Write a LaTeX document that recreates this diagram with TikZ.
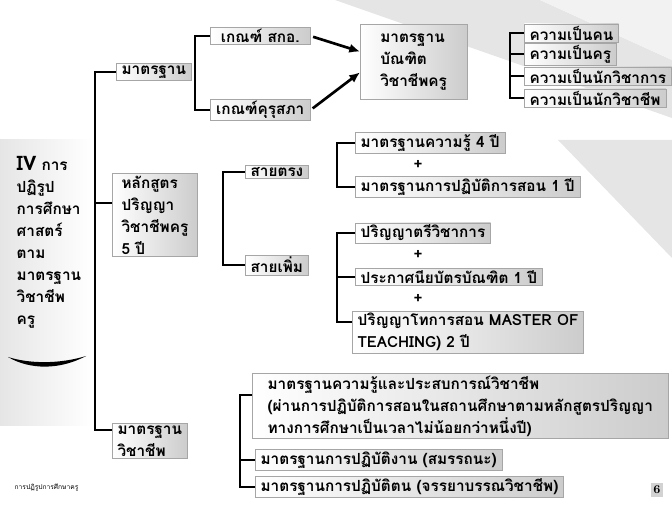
\documentclass[tikz,border=0pt]{standalone}
\usepackage{fontspec}
\newfontfamily\thaifont[Script=Thai]{Loma}
\usetikzlibrary{arrows.meta}

\begin{document}
\lineskiplimit=-20pt\relax
\begin{tikzpicture}[x=0.75pt, y=-0.75pt,
    txt/.style={font=\thaifont\bfseries\fontsize{11.5}{16.5}\selectfont},
    box/.style={txt, left color=white, right color=gray!40, draw=gray!70,
      inner xsep=4pt, inner ysep=1.5pt, anchor=west, align=left},
    brk/.style={line width=1.6pt},
    arr/.style={line width=2pt, -{Latex[length=8pt,width=7pt]}, shorten <=2pt}]
    \useasboundingbox (0,0) rectangle (672,506);

    % background shading
    \fill[gray!20] (335,0) -- (540,0) -- (672,60) -- (672,118) -- cycle;
    \fill[gray!10] (540,0) -- (672,0) -- (672,60) -- cycle;
    \fill[gray!20] (558,140) -- (672,140) -- (672,258) -- cycle;
    \shade[left color=gray!20, right color=white] (0,140) rectangle (92,425);

    % title
    \node[txt, anchor=west, align=left] (title) at (12,242)
      {{\fontsize{15}{16.5}\selectfont IV} การ\\ปฏิรูป\\การศึกษา\\ศาสตร์\\ตาม\\มาตรฐาน\\วิชาชีพ\\ครู};
    \fill (8,357) .. controls (30,370) and (60,370) .. (86,356)
      .. controls (60,364) and (30,364) .. (8,357);

    % first level
    \node[box, minimum width=47pt] (std) at (116,72) {มาตรฐาน};
    \node[box, minimum width=64pt] (cur) at (112,215) {หลักสูตร\\ปริญญา\\วิชาชีพครู\\5 ปี};
    \node[box, minimum width=45pt] (prof) at (112,441) {มาตรฐาน\\วิชาชีพ};
    \coordinate (m1) at (95,72);
    \coordinate (m2) at (95,203);
    \coordinate (m3) at (95,430);
    \draw[brk] (std.west) -- (m1) -- (m3) -- (m3 -| prof.west);
    \draw[brk] (m2) -- (m2 -| cur.west);

    % criteria
    \node[box, minimum width=75pt] (ohec) at (210,36) {เกณฑ์ สกอ.};
    \node[box, minimum width=75pt] (ksp) at (210,110) {เกณฑ์คุรุสภา};
    \draw[brk] (ohec.west) -- ++(-15,0) |- (ksp.west);
    \node[box, minimum width=80pt, minimum height=56pt] (grad) at (360,62) {มาตรฐาน\\บัณฑิต\\วิชาชีพครู};
    \draw[arr] (ohec.east) -- (grad.169);
    \draw[arr] (ksp.east) -- (grad.191);

    \node[box] (k1) at (524,33) {ความเป็นคน};
    \node[box] (k2) at (524,54) {ความเป็นครู};
    \node[box] (k3) at (524,76) {ความเป็นนักวิชาการ};
    \node[box] (k4) at (524,98) {ความเป็นนักวิชาชีพ};
    \draw[brk] (k1.west) -- ++(-14,0) |- (k4.west);
    \draw[brk] (k2.west) -- ++(-14,0);
    \draw[brk] (k3.west) -- ++(-14,0);

    % curriculum
    \node[box, minimum width=47pt] (direct) at (245,172) {สายตรง};
    \node[box, minimum width=47pt] (extra) at (245,265) {สายเพิ่ม};
    \draw[brk] (direct.west) -- ++(-22,0) |- (extra.west);

    \node[box] (know) at (355,143) {มาตรฐานความรู้ 4 ปี};
    \node[txt] (plus1) at (418,165) {+};
    \node[box] (teach) at (355,187) {มาตรฐานการปฏิบัติการสอน 1 ปี};
    \draw[brk] (know.west) -- ++(-18,0) |- (teach.west);

    \node[box] (bach) at (355,233) {ปริญญาตรีวิชาการ};
    \node[txt] (plus2) at (418,255) {+};
    \node[box] (cert) at (355,277) {ประกาศนียบัตรบัณฑิต 1 ปี};
    \node[txt] (plus3) at (418,299) {+};
    \node[box, minimum width=168pt] (mast) at (352,332) {ปริญญาโทการสอน MASTER OF\\TEACHING) 2 ปี};
    \coordinate (mastin) at (352,322);
    \draw[brk] (bach.west) -- ++(-18,0) |- (mastin);
    \draw[brk] (cert.west) -- ++(-18,0);

    % professional standards
    \node[box, minimum width=312pt] (exp) at (252,406) {มาตรฐานความรู้และประสบการณ์วิชาชีพ\\(ผ่านการปฏิบัติการสอนในสถานศึกษาตามหลักสูตรปริญญา\\ทางการศึกษาเป็นเวลาไม่น้อยกว่าหนึ่งปี)};
    \node[box] (work) at (255,460) {มาตรฐานการปฏิบัติงาน (สมรรถนะ)};
    \node[box] (ethic) at (255,487) {มาตรฐานการปฏิบัติตน (จรรยาบรรณวิชาชีพ)};
    \coordinate (expin) at (252,395);
    \draw[brk] (expin) -- ++(-12,0) |- (ethic.west);
    \draw[brk] (work.west) -- ++(-15,0);

    % footer
    \node[anchor=west, font=\thaifont\fontsize{5}{6}\selectfont] (foot) at (10,488) {การปฏิรูปการศึกษาครู};
    \node[fill=gray!35, font=\bfseries\small, inner sep=2pt] (page) at (657,490) {6};
\end{tikzpicture}
\end{document}
